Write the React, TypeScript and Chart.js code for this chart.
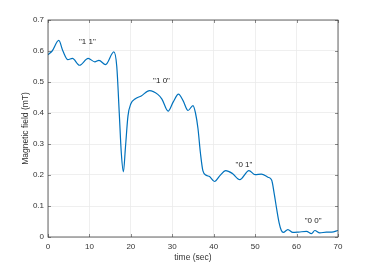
import React, { useEffect, useRef } from "react";
import { Chart, registerables } from "chart.js";

Chart.register(...registerables);

const times = [0, 1, 2.6, 3.6, 4.8, 5.9, 7.6, 9.7, 11.3, 12.3, 13.9, 15.9, 16.6, 17.2, 17.7, 18.2, 18.7, 19.3, 20.0, 21.0, 22.5, 24.5, 26.5, 27.5, 29.0, 30.2, 31.5, 32.6, 33.8, 35.0, 35.6, 36.2, 36.8, 37.4, 38.2, 39.0, 40.2, 41.5, 42.9, 44.5, 46.3, 48.5, 50.0, 51.5, 53.1, 54.0, 54.6, 55.2, 55.8, 56.3, 56.8, 57.9, 59.1, 60.5, 62.4, 63.6, 64.4, 65.6, 67.2, 68.5, 70];
const field = [0.588, 0.6, 0.634, 0.6, 0.572, 0.576, 0.554, 0.576, 0.565, 0.57, 0.556, 0.597, 0.55, 0.4, 0.27, 0.21, 0.29, 0.39, 0.43, 0.445, 0.455, 0.472, 0.46, 0.445, 0.406, 0.435, 0.461, 0.44, 0.408, 0.424, 0.4, 0.35, 0.27, 0.213, 0.199, 0.195, 0.179, 0.198, 0.214, 0.205, 0.185, 0.214, 0.201, 0.203, 0.193, 0.183, 0.14, 0.09, 0.045, 0.022, 0.015, 0.024, 0.015, 0.016, 0.018, 0.011, 0.021, 0.013, 0.016, 0.016, 0.021];

const labelTexts = ['"1 1"', '"1 0"', '"0 1"', '"0 0"'];
const labelX = [9.5, 27.4, 47.3, 64];
const labelY = [0.63, 0.504, 0.233, 0.053];

const xTicks = [0, 10, 20, 30, 40, 50, 60, 70];
const yTicks = [0, 0.1, 0.2, 0.3, 0.4, 0.5, 0.6, 0.7];

const xTitle = "time (sec)";
const yTitle = "Magnetic field (mT)";

const FONT = "'Liberation Sans', Arial, sans-serif";

const overlayPlugin = {
  id: "overlay",
  afterDatasetsDraw(chart: any) {
    const { ctx, chartArea, scales } = chart;
    const xs = scales.x;
    const ys = scales.y;
    ctx.save();
    // inner ticks
    ctx.strokeStyle = "#404040";
    ctx.lineWidth = 0.6;
    const len = 3;
    ctx.beginPath();
    for (const v of xTicks) {
      const px = Math.round(xs.getPixelForValue(v)) + 0.5;
      ctx.moveTo(px, chartArea.bottom);
      ctx.lineTo(px, chartArea.bottom - len);
      ctx.moveTo(px, chartArea.top);
      ctx.lineTo(px, chartArea.top + len);
    }
    for (const v of yTicks) {
      const py = Math.round(ys.getPixelForValue(v)) + 0.5;
      ctx.moveTo(chartArea.left, py);
      ctx.lineTo(chartArea.left + len, py);
      ctx.moveTo(chartArea.right, py);
      ctx.lineTo(chartArea.right - len, py);
    }
    ctx.stroke();
    // border
    ctx.strokeStyle = "#404040";
    ctx.lineWidth = 0.8;
    ctx.strokeRect(chartArea.left, chartArea.top, chartArea.right - chartArea.left, chartArea.bottom - chartArea.top);
    // annotations
    ctx.fillStyle = "#222";
    ctx.font = `8px ${FONT}`;
    ctx.textAlign = "center";
    ctx.textBaseline = "middle";
    labelTexts.forEach((t, i) => {
      ctx.fillText(t, xs.getPixelForValue(labelX[i]), ys.getPixelForValue(labelY[i]));
    });
    // axis titles
    ctx.fillStyle = "#333";
    ctx.font = `8.5px ${FONT}`;
    ctx.fillText(xTitle, (chartArea.left + chartArea.right) / 2, chartArea.bottom + 21);
    ctx.translate(chartArea.left - 22, (chartArea.top + chartArea.bottom) / 2);
    ctx.rotate(-Math.PI / 2);
    ctx.fillText(yTitle, 0, 0);
    ctx.restore();
  },
};

export default function App() {
  const ref = useRef<HTMLCanvasElement>(null);
  useEffect(() => {
    const chart = new Chart(ref.current!, {
      type: "line",
      data: {
        datasets: [
          {
            data: times.map((t, i) => ({ x: t, y: field[i] })),
            borderColor: "#0072BD",
            borderWidth: 1.2,
            pointRadius: 0,
            cubicInterpolationMode: "monotone",
            fill: false,
          },
        ],
      },
      options: {
        animation: false,
        responsive: false,
        layout: { padding: { top: 20, right: 36, left: 0, bottom: 0 } },
        plugins: { legend: { display: false }, tooltip: { enabled: false } },
        scales: {
          x: {
            type: "linear",
            min: 0,
            max: 70,
            afterBuildTicks: (s: any) => {
              s.ticks = xTicks.map((v) => ({ value: v }));
            },
            afterFit: (s: any) => {
              s.height = 30;
            },
            grid: { color: "#ebebeb", lineWidth: 0.8, drawTicks: false },
            border: { display: false },
            ticks: { color: "#333", font: { size: 8, family: FONT }, padding: 5, maxRotation: 0 },
          },
          y: {
            min: 0,
            max: 0.7,
            afterBuildTicks: (s: any) => {
              s.ticks = yTicks.map((v) => ({ value: v }));
            },
            afterFit: (s: any) => {
              s.width = 48;
            },
            grid: { color: "#ebebeb", lineWidth: 0.8, drawTicks: false },
            border: { display: false },
            ticks: {
              color: "#333",
              font: { size: 8, family: FONT },
              padding: 4,
              callback: (v: any) => (v === 0 ? "0" : Number(v).toFixed(1)),
            },
          },
        },
      },
      plugins: [overlayPlugin],
    } as any);
    return () => chart.destroy();
  }, []);
  return (
    <div style={{ position: "fixed", left: 0, top: 0, width: 374, height: 267, background: "#fff" }}>
      <canvas ref={ref} width={374} height={267} style={{ width: 374, height: 267 }} />
    </div>
  );
}
